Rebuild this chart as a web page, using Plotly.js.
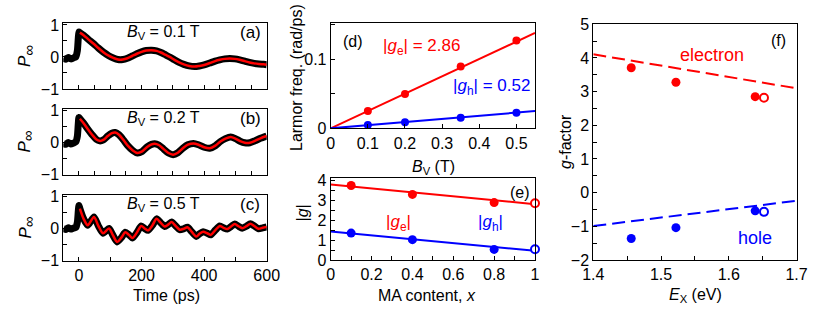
<!DOCTYPE html>
<html><head><meta charset="utf-8">
<script src="https://cdn.plot.ly/plotly-3.0.1.min.js"></script>
<style>html,body{margin:0;padding:0;background:#fff}#plot{width:814px;height:312px}</style>
</head><body><div id="plot"></div>
<script>
// ---------- data ----------
// panel (a) B_V = 0.1 T : fit (red) and measured pre-pulse part (black)
const tPreA = [-50, -42, -34, -26, -18, -10, -5, -2, 0];
const pPreA = [-0.04, -0.07, -0.02, -0.06, -0.03, 0.0, 0.2, 0.6, 0.78];
const tFitA = [3, 15, 30, 46, 62, 78, 95, 110, 125, 140, 155, 170, 185, 200, 215, 232, 248, 262, 276, 290, 305, 320, 335, 352, 370, 385, 400, 418, 435, 450, 466, 482, 498, 514, 530, 545, 560, 575, 590, 600];
const pFitA = [0.76, 0.68, 0.55, 0.42, 0.28, 0.15, 0.04, -0.03, -0.08, -0.08, -0.04, 0.03, 0.10, 0.16, 0.20, 0.21, 0.19, 0.14, 0.07, 0.0, -0.09, -0.17, -0.23, -0.28, -0.30, -0.28, -0.25, -0.19, -0.13, -0.09, -0.06, -0.05, -0.06, -0.09, -0.13, -0.17, -0.20, -0.22, -0.23, -0.24];
// panel (b) B_V = 0.2 T
const tPreB = [-50, -42, -34, -26, -18, -10, -5, -2, 0];
const pPreB = [-0.03, -0.06, 0.0, -0.05, -0.02, 0.02, 0.2, 0.6, 0.78];
const tFitB = [3, 15, 28, 42, 55, 66, 78, 92, 105, 116, 128, 142, 156, 172, 187, 202, 218, 232, 242, 255, 270, 286, 301, 316, 332, 348, 366, 382, 400, 418, 436, 452, 468, 485, 500, 515, 530, 546, 562, 580, 600];
const pFitB = [0.74, 0.60, 0.42, 0.24, 0.10, 0.05, 0.08, 0.20, 0.29, 0.31, 0.24, 0.08, -0.10, -0.25, -0.33, -0.28, -0.14, -0.06, -0.04, -0.08, -0.20, -0.33, -0.38, -0.32, -0.18, -0.07, -0.03, -0.07, -0.15, -0.18, -0.10, 0.03, 0.12, 0.17, 0.12, 0.04, -0.01, -0.01, 0.05, 0.13, 0.20];
// panel (c) B_V = 0.5 T
const tPreC = [-50, -42, -34, -26, -18, -10, -5, -2, 0];
const pPreC = [0.0, -0.03, 0.02, -0.02, 0.01, 0.03, 0.2, 0.55, 0.72];
const tFitC = [3, 15, 28, 48, 62, 77, 96, 108, 122, 136, 148, 160, 171, 185, 199, 210, 221, 235, 248, 261, 274, 285, 296, 309, 322, 335, 347, 360, 375, 386, 397, 410, 421, 436, 450, 462, 474, 486, 498, 510, 522, 535, 548, 560, 574, 587, 600];
const pFitC = [0.62, 0.30, 0.10, 0.36, 0.08, -0.15, 0.0, -0.20, -0.42, -0.28, -0.12, -0.20, -0.30, -0.13, 0.08, 0.0, -0.06, 0.10, 0.30, 0.18, 0.06, 0.12, 0.20, 0.08, -0.04, -0.01, 0.04, -0.10, -0.25, -0.16, -0.10, -0.15, -0.20, -0.05, 0.08, 0.02, -0.02, 0.06, 0.14, 0.07, 0.01, 0.07, 0.15, 0.08, -0.01, 0.02, 0.05];
const fieldLabels = ['0.1', '0.2', '0.5'];
const panelLetters = ['(a)', '(b)', '(c)'];

// panel (d) Larmor frequency vs field
const bField = [0.1, 0.2, 0.35, 0.5];
const omegaE = [0.025, 0.0497, 0.0893, 0.127];
const omegaH = [0.0048, 0.0087, 0.0154, 0.0226];
const fitBx = [0, 0.55];
const fitOmegaE = [0, 0.138];
const fitOmegaH = [0, 0.025];

// panel (e) |g| vs MA content
const maX = [0.1, 0.4, 0.8];
const gEabs = [3.74, 3.29, 2.88];
const gHabs = [1.35, 1.02, 0.53];
const maOpenX = [1];
const gEabsOpen = [2.85];
const gHabsOpen = [0.54];
const fitMaX = [0, 1];
const fitGe = [3.79, 2.80];
const fitGh = [1.43, 0.46];

// panel (f) g-factor vs exciton energy
const ex = [1.456, 1.522, 1.639];
const gE = [3.71, 3.28, 2.85];
const gH = [-1.36, -1.04, -0.54];
const exOpen = [1.652];
const gEOpen = [2.82];
const gHOpen = [-0.57];
const theoEx = [1.4, 1.7];
const theoGe = [4.11, 3.10];
const theoGh = [-0.99, -0.24];

// ---------- layout helpers ----------
const W = 814, H = 312;
const FONT = 'Liberation Sans, Arial, sans-serif';
const FS = 16;
const RED = '#ff0000', BLUE = '#0000ff';
const px = x => x / W;
const py = y => 1 - y / H;
const dx = (a, b) => [px(a), px(b)];
const dy = (top, bot) => [py(bot), py(top)];

function minorTicks(d) { return {dtick: d, ticks: 'inside', ticklen: 4, tickcolor: '#000'}; }
function axis(extra) {
  return Object.assign({
    showline: true, mirror: true, linecolor: '#000', linewidth: 1,
    ticks: 'inside', ticklen: 4, tickwidth: 1, tickcolor: '#000',
    showgrid: false, zeroline: false,
    tickfont: {family: FONT, size: FS, color: '#000'},
    fixedrange: true
  }, extra);
}

const traces = [];
const pre = [[tPreA, pPreA], [tPreB, pPreB], [tPreC, pPreC]];
const fit = [[tFitA, pFitA], [tFitB, pFitB], [tFitC, pFitC]];
for (let i = 0; i < 3; i++) {
  const xa = i === 0 ? 'x' : 'x' + (i + 1);
  const ya = i === 0 ? 'y' : 'y' + (i + 1);
  traces.push({x: pre[i][0].concat(fit[i][0]), y: pre[i][1].concat(fit[i][1]), xaxis: xa, yaxis: ya,
    mode: 'lines', line: {color: '#000', width: 7, shape: 'spline', smoothing: 0.6}, hoverinfo: 'skip'});
  traces.push({x: fit[i][0], y: fit[i][1], xaxis: xa, yaxis: ya,
    mode: 'lines', line: {color: RED, width: 2.5, shape: 'spline', smoothing: 0.8}, hoverinfo: 'skip'});
}
// (d)
traces.push({x: fitBx, y: fitOmegaE, xaxis: 'x4', yaxis: 'y4', mode: 'lines', line: {color: RED, width: 2}});
traces.push({x: fitBx, y: fitOmegaH, xaxis: 'x4', yaxis: 'y4', mode: 'lines', line: {color: BLUE, width: 2}});
traces.push({x: bField, y: omegaE, xaxis: 'x4', yaxis: 'y4', mode: 'markers', marker: {color: RED, size: 8}});
traces.push({x: bField, y: omegaH, xaxis: 'x4', yaxis: 'y4', mode: 'markers', marker: {color: BLUE, size: 8}});
// (e)
traces.push({x: fitMaX, y: fitGe, xaxis: 'x5', yaxis: 'y5', mode: 'lines', line: {color: RED, width: 2}});
traces.push({x: fitMaX, y: fitGh, xaxis: 'x5', yaxis: 'y5', mode: 'lines', line: {color: BLUE, width: 2}});
traces.push({x: maX, y: gEabs, xaxis: 'x5', yaxis: 'y5', mode: 'markers', marker: {color: RED, size: 9}});
traces.push({x: maX, y: gHabs, xaxis: 'x5', yaxis: 'y5', mode: 'markers', marker: {color: BLUE, size: 9}});
traces.push({x: maOpenX, y: gEabsOpen, xaxis: 'x5', yaxis: 'y5', mode: 'markers', cliponaxis: false,
  marker: {color: '#fff', size: 8, line: {color: RED, width: 2}}});
traces.push({x: maOpenX, y: gHabsOpen, xaxis: 'x5', yaxis: 'y5', mode: 'markers', cliponaxis: false,
  marker: {color: '#fff', size: 8, line: {color: BLUE, width: 2}}});
// (f)
traces.push({x: theoEx, y: theoGe, xaxis: 'x6', yaxis: 'y6', mode: 'lines', line: {color: RED, width: 2, dash: '13px,6px'}});
traces.push({x: theoEx, y: theoGh, xaxis: 'x6', yaxis: 'y6', mode: 'lines', line: {color: BLUE, width: 2, dash: '13px,6px'}});
traces.push({x: ex, y: gE, xaxis: 'x6', yaxis: 'y6', mode: 'markers', marker: {color: RED, size: 9}});
traces.push({x: ex, y: gH, xaxis: 'x6', yaxis: 'y6', mode: 'markers', marker: {color: BLUE, size: 9}});
traces.push({x: exOpen, y: gEOpen, xaxis: 'x6', yaxis: 'y6', mode: 'markers',
  marker: {color: '#fff', size: 8, line: {color: RED, width: 2}}});
traces.push({x: exOpen, y: gHOpen, xaxis: 'x6', yaxis: 'y6', mode: 'markers',
  marker: {color: '#fff', size: 8, line: {color: BLUE, width: 2}}});

const pRange = [-1, 1.06];
const tRange = [-50, 600];
const rowsY = [[23, 89], [108.5, 174.5], [194.5, 260.5]];

const layout = {
  width: W, height: H, margin: {l: 0, r: 0, t: 0, b: 0},
  paper_bgcolor: '#fff', plot_bgcolor: 'rgba(0,0,0,0)', showlegend: false,
  font: {family: FONT, size: FS, color: '#000'},
  xaxis: axis({domain: dx(63.3, 266.7), range: tRange, dtick: 50, showticklabels: false, anchor: 'y'}),
  yaxis: axis({domain: dy(...rowsY[0]), range: pRange, dtick: 1, minor: minorTicks(0.5), anchor: 'x'}),
  xaxis2: axis({domain: dx(63.3, 266.7), range: tRange, dtick: 50, showticklabels: false, anchor: 'y2'}),
  yaxis2: axis({domain: dy(...rowsY[1]), range: pRange, dtick: 1, minor: minorTicks(0.5), anchor: 'x2'}),
  xaxis3: axis({domain: dx(63.3, 266.7), range: tRange, dtick: 200, tick0: 0, minor: minorTicks(100), anchor: 'y3'}),
  yaxis3: axis({domain: dy(...rowsY[2]), range: pRange, dtick: 1, minor: minorTicks(0.5), anchor: 'x3'}),
  xaxis4: axis({domain: dx(330.7, 535), range: [0, 0.55], dtick: 0.1, anchor: 'y4'}),
  yaxis4: axis({domain: dy(23.3, 128.3), range: [0, 0.152], dtick: 0.1, minor: minorTicks(0.05), anchor: 'x4'}),
  xaxis5: axis({domain: dx(330.7, 535), range: [0, 1], dtick: 0.2, minor: minorTicks(0.1), anchor: 'y5'}),
  yaxis5: axis({domain: dy(178.3, 260), range: [0, 4.1], dtick: 1, minor: minorTicks(0.5), anchor: 'x5'}),
  xaxis6: axis({domain: dx(593.3, 796.5), range: [1.4, 1.7], dtick: 0.1, minor: minorTicks(0.05), anchor: 'y6'}),
  yaxis6: axis({domain: dy(24.3, 260), range: [-2, 5], dtick: 1, minor: minorTicks(0.5), anchor: 'x6'}),
  annotations: []
};

function ann(text, x, y, opts) {
  const o = opts || {};
  layout.annotations.push(Object.assign({text: text, x: px(x), y: py(y), xref: 'paper', yref: 'paper',
    showarrow: false, xanchor: 'center', yanchor: 'middle',
    font: {family: FONT, size: o.size || FS, color: o.color || '#000'}}, o.textangle !== undefined ? {textangle: o.textangle} : {}));
}
const labelY = [33, 118.5, 204];
for (let i = 0; i < 3; i++) {
  ann('<i>B</i><sub>V</sub> = ' + fieldLabels[i] + ' T', 163, labelY[i]);
  ann(panelLetters[i], 250, labelY[i], {size: 17});
  ann('<i>P</i><sub><span style="font-size:15px">∞</span></sub>', 26, (rowsY[i][0] + rowsY[i][1]) / 2, {textangle: -90, size: 17});
}
ann('Time (ps)', 166.7, 295);
ann('Larmor freq. (rad/ps)', 296, 78, {textangle: -90});
ann('<i>B</i><sub>V</sub> (T)', 433, 167);
ann('(d)', 353, 42);
ann('|<i>g</i><sub>e</sub>| = 2.86', 421.7, 47, {size: 17, color: RED});
ann('|<i>g</i><sub>h</sub>| = 0.52', 491.7, 87, {size: 17, color: BLUE});
ann('|<i>g</i>|', 301.5, 213, {textangle: -90});
ann('(e)', 520, 192);
ann('|<i>g</i><sub>e</sub>|', 398, 223, {size: 17, color: RED});
ann('|<i>g</i><sub>h</sub>|', 490, 223, {size: 17, color: BLUE});
ann('MA content, <i>x</i>', 426.7, 295);
ann('<i>g</i>-factor', 566, 142, {textangle: -90});
ann('(f)', 778, 40);
ann('electron', 711.7, 55, {size: 18, color: RED});
ann('hole', 755, 238, {size: 18, color: BLUE});
ann('<i>E</i><sub>X</sub> (eV)', 695, 295);

Plotly.newPlot('plot', traces, layout, {displayModeBar: false, staticPlot: true});
</script>
</body></html>
